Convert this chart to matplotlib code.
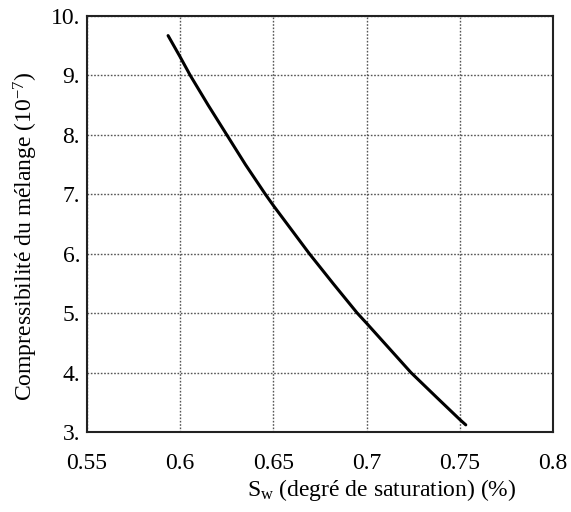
import numpy as np
import matplotlib
matplotlib.use("Agg")
import matplotlib.pyplot as plt

plt.rcParams['font.family'] = 'Liberation Serif'
plt.rcParams['mathtext.fontset'] = 'custom'
plt.rcParams['mathtext.rm'] = 'Liberation Serif'
plt.rcParams['mathtext.it'] = 'Liberation Serif:italic'

# values
sw = [0.5935, 0.6, 0.6054, 0.615, 0.625, 0.635, 0.6457, 0.65, 0.6693, 0.682, 0.695, 0.7, 0.7238, 0.738, 0.75, 0.7532]
comp = [9.67, 9.31, 9.0, 8.5, 8.0, 7.5, 7.0, 6.81, 6.0, 5.5, 5.0, 4.83, 4.0, 3.57, 3.21, 3.12]

xticks = [0.55, 0.6, 0.65, 0.7, 0.75, 0.8]
xlabels = ["0.55", "0.6", "0.65", "0.7", "0.75", "0.8"]
yticks = [3, 4, 5, 6, 7, 8, 9, 10]
ylabels = ["3.", "4.", "5.", "6.", "7.", "8.", "9.", "10."]

fig = plt.figure(figsize=(5.71, 5.12), dpi=100)
ax = fig.add_axes([87/571, 80/512, 466/571, 416/512])

ax.plot(sw, comp, color='black', lw=2.2, solid_capstyle='round', solid_joinstyle='round')

ax.set_xlim(0.55, 0.8)
ax.set_ylim(3, 10)
ax.set_xticks(xticks)
ax.set_xticklabels(xlabels)
ax.set_yticks(yticks)
ax.set_yticklabels(ylabels)
ax.tick_params(length=0, labelsize=17)
ax.tick_params(axis='x', pad=15)
ax.tick_params(axis='y', pad=5)
ax.grid(True, linestyle=(0, (1.2, 1.2)), color='#555555', lw=1.0)
for s in ax.spines.values():
    s.set_linewidth(1.5)
    s.set_color('#222222')

fig.text(382/571, 1 - 490/512, "S$_{\\rm w}$ (degré de saturation) (%)",
         fontsize=17, ha='center', va='center')
fig.text(26/571, 1 - 236/512, "Compressibilité du mélange (10$^{-7}$)",
         fontsize=17, ha='center', va='center', rotation=90)

fig.savefig("out.png", dpi=100)
